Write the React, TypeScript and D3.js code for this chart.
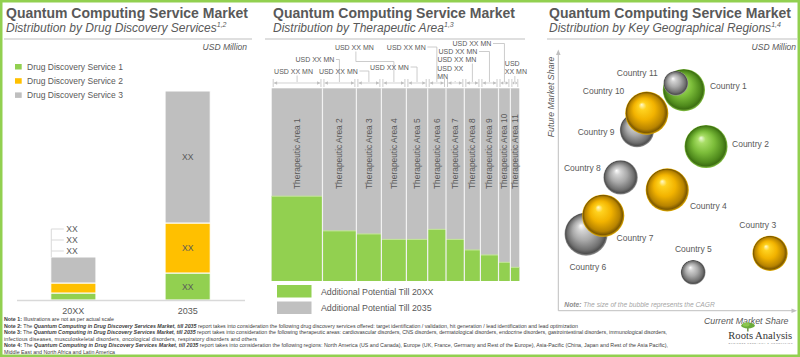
import React from "react";
import * as d3 from "d3";

// ---------- Data ----------
const drugYears = ["20XX", "2035"];
const drugServices = ["Drug Discovery Service 1", "Drug Discovery Service 2", "Drug Discovery Service 3"];
const service1Values = [7, 27];
const service2Values = [10, 50];
const service3Values = [26, 132];
const drugValueLabels = ["XX", "XX", "XX"];

const areaNames = [
  "Therapeutic Area 1", "Therapeutic Area 2", "Therapeutic Area 3", "Therapeutic Area 4",
  "Therapeutic Area 5", "Therapeutic Area 6", "Therapeutic Area 7", "Therapeutic Area 8",
  "Therapeutic Area 9", "Therapeutic Area 10", "Therapeutic Area 11",
];
const areaShare = [20.5, 13.7, 10.1, 10.1, 8.6, 7.4, 7.4, 6.5, 7.3, 4.8, 3.6];
const potentialTill20XX = [44, 26, 24.4, 21.6, 21.6, 26.8, 21.6, 16.1, 13.5, 9.7, 7.1];
const areaValueLabels = areaNames.map(() => "USD XX MN");
const areaLegend = ["Additional Potential Till 20XX", "Additional Potential Till 2035"];

const countries = [
  "Country 1", "Country 2", "Country 3", "Country 4", "Country 5", "Country 6",
  "Country 7", "Country 8", "Country 9", "Country 10", "Country 11",
];
const currentShare = [52.9, 62.2, 89.1, 45.9, 56.8, 11.8, 19.0, 26.3, 33.2, 37.3, 49.5];
const futureShare = [84.6, 62.9, 21.8, 46.2, 14.5, 29.2, 36.3, 51.0, 69.2, 75.7, 87.2];
const cagr = [24, 24.5, 20, 24.5, 14, 24.5, 24, 19.5, 19.5, 24.5, 14];
const countryGroup = ["green", "green", "yellow", "yellow", "gray", "gray", "yellow", "gray", "gray", "yellow", "gray"];

const noteLines = [
  [["Note 1:", "b"], [" Illustrations are not as per actual scale", ""]],
  [["Note 2:", "b"], [" The ", ""], ["Quantum Computing in Drug Discovery Services Market, till 2035", "bi"], [" report takes into consideration the following drug discovery services offered: target identification / validation, hit generation / lead identification and lead optimization", ""]],
  [["Note 3:", "b"], [" The ", ""], ["Quantum Computing in Drug Discovery Services Market, till 2035", "bi"], [" report takes into consideration the following therapeutic areas: cardiovascular disorders, CNS disorders, dermatological disorders, endocrine disorders, gastrointestinal disorders, immunological disorders,", ""]],
  [["infectious diseases, musculoskeletal disorders, oncological disorders, respiratory disorders and others", ""]],
  [["Note 4:", "b"], [" The ", ""], ["Quantum Computing in Drug Discovery Services Market, till 2035", "bi"], [" report takes into consideration the following regions: North America (US and Canada), Europe (UK, France, Germany and Rest of the Europe), Asia-Pacific (China, Japan and Rest of the Asia Pacific),", ""]],
  [["Middle East and North Africa and Latin America", ""]],
];
const noteLengths = [110, 574, 663, 253, 664, 111];

// ---------- Layout (not data) ----------
const areaLabelLayout = [
  { dx: -23, y: 73.5, type: "down", lines: 1 },
  { dx: -44, y: 62, type: "side", lines: 1 },
  { dx: -50, y: 73.5, type: "side", lines: 1 },
  { dx: -59, y: 49.5, type: "dog", lines: 1 },
  { dx: -47, y: 69.5, type: "side", lines: 1 },
  { dx: -50, y: 49.5, type: "side", lines: 1 },
  { dx: -18, y: 71, type: "down", lines: 2 },
  { dx: -35, y: 61.5, type: "down", lines: 1 },
  { dx: -51, y: 54, type: "side", lines: 1 },
  { dx: -52, y: 46, type: "side", lines: 1 },
  { dx: -10, y: 66, type: "down", lines: 2 },
];
const countryLabelOffset = [
  [26, -1], [26, 0.5], [-30.7, -25.3], [22.7, 19], [-18.3, -20.3], [-16.7, 36],
  [13.4, 25.3], [-56.7, -6.8], [-59.3, 5], [-64, -19.3], [-59, -7.3],
];
const bubbleOrder = [5, 6, 8, 9, 0, 10, 1, 2, 3, 4, 7];

const F = "'Liberation Sans', Arial, Helvetica, sans-serif";
const TXT = "#595959";
const GREEN = "#92D050";
const ORANGE = "#FFC000";
const GRAY = "#BFBFBF";
const LINE = "#BFBFBF";

function Titles({ x, sub, sup }: { x: number; sub: string; sup: string }) {
  return (
    <g fontFamily={F} fill={TXT}>
      <text x={x} y={17.5} fontSize={14} fontWeight="bold">Quantum Computing Service Market</text>
      <text x={x} y={32} fontSize={12} fontStyle="italic">
        {sub}
        <tspan dy={-5} fontSize={7}>{sup}</tspan>
      </text>
    </g>
  );
}

export default function App() {
  // ---------- Left: stacked bars ----------
  const stackData = drugYears.map((yr, i) => ({ year: yr, s1: service1Values[i], s2: service2Values[i], s3: service3Values[i] }));
  const series = d3.stack<any>().keys(["s1", "s2", "s3"])(stackData);
  const xb = d3.scaleBand().domain(drugYears).range([16.5, 244.5]).paddingInner(0.605).paddingOuter(0.3);
  const maxSum = d3.max(stackData, (d) => d.s1 + d.s2 + d.s3) as number;
  const yb = d3.scaleLinear().domain([0, maxSum]).range([300, 91]);
  const serviceColors = [GREEN, ORANGE, GRAY];

  // ---------- Middle: mosaic ----------
  const cum = Array.from(d3.cumsum(areaShare));
  const totalShare = cum[cum.length - 1];
  const xm = d3.scaleLinear().domain([0, totalShare]).range([271.7, 519.3]);
  const ym = d3.scaleLinear().domain([0, 100]).range([281, 88.3]);
  const cols = areaNames.map((n, i) => ({
    name: n,
    x0: xm(cum[i] - areaShare[i]),
    x1: xm(cum[i]),
    g: potentialTill20XX[i],
  }));
  const arrowY = 83;
  const lblFs = 7;
  const lblW = (s: string) => s.length * 0.62 * lblFs;

  // ---------- Right: bubbles ----------
  const xc = d3.scaleLinear().domain([0, 100]).range([558, 796]);
  const yc = d3.scaleLinear().domain([0, 100]).range([310, 50]);
  const rc = d3.scaleLinear().domain([0, 25]).range([0, 22]);

  const grads: Record<string, string[]> = {
    green: ["#f2fbe0", "#a8de66", "#7cbd3a", "#4f8a1c", "#3d6f12", "#8cc94a"],
    yellow: ["#fffbd0", "#ffd21f", "#f2b300", "#b78300", "#7d5900", "#e8b000"],
    gray: ["#ffffff", "#d4d4d4", "#a9a9a9", "#6f6f6f", "#4f4f4f", "#9a9a9a"],
  };

  return (
    <svg width={800} height={357} style={{ position: "absolute", left: 0, top: 0 }} fontFamily={F}>
      <defs>
        {Object.entries(grads).map(([k, c]) => (
          <radialGradient key={k} id={`sph-${k}`} cx="50%" cy="50%" r="50%" fx="38%" fy="30%">
            <stop offset="0%" stopColor={c[0]} />
            <stop offset="18%" stopColor={c[1]} />
            <stop offset="50%" stopColor={c[2]} />
            <stop offset="82%" stopColor={c[3]} />
            <stop offset="93%" stopColor={c[4]} />
            <stop offset="100%" stopColor={c[5]} />
          </radialGradient>
        ))}
      </defs>
      <rect x={0} y={0} width={800} height={357} fill="#fff" />

      {/* ===== Left panel ===== */}
      <Titles x={6} sub="Distribution by Drug Discovery Services" sup="1,2" />
      <line x1={4} x2={252} y1={39} y2={39} stroke={LINE} strokeWidth={1} />
      <text x={247} y={50} fontSize={8.5} fontStyle="italic" fill={TXT} textAnchor="end">USD Million</text>
      {drugServices.map((s, i) => (
        <g key={s}>
          <rect x={15} y={64 + i * 14.2} width={6.7} height={5.5} fill={serviceColors[i]} />
          <text x={27} y={69.8 + i * 14.2} fontSize={8.5} fill={TXT}>{s}</text>
        </g>
      ))}
      {series.map((s, si) =>
        s.map((d: any, di: number) => (
          <rect
            key={`${si}-${di}`}
            x={xb(d.data.year)}
            y={yb(d[1])}
            width={xb.bandwidth()}
            height={yb(d[0]) - yb(d[1])}
            fill={serviceColors[si]}
            stroke="#fff"
            strokeWidth={1}
          />
        ))
      )}
      <line x1={17} x2={245} y1={300.5} y2={300.5} stroke="#d9d9d9" strokeWidth={1.5} />
      {/* labels inside 2035 bar */}
      {series.map((s, si) => {
        const d: any = s[1];
        return (
          <text key={si} x={(xb(drugYears[1]) as number) + xb.bandwidth() / 2} y={(yb(d[0]) + yb(d[1])) / 2 + 3.2}
            fontSize={8.6} fill={TXT} textAnchor="middle">{drugValueLabels[si]}</text>
        );
      })}
      {/* bracket labels for 20XX */}
      {(() => {
        const bx = xb(drugYears[0]) as number;
        const top = yb(series[2][0][1]);
        const ys = [top - 28, top - 17, top - 6];
        return (
          <g>
            <line x1={bx + 0.5} x2={bx + 0.5} y1={ys[0]} y2={top} stroke="#d9d9d9" />
            {ys.map((yy, i) => (
              <g key={i}>
                <line x1={bx + 0.5} x2={bx + 13} y1={yy} y2={yy} stroke="#d9d9d9" />
                <text x={bx + 15.5} y={yy + 3.2} fontSize={8.6} fill={TXT}>{drugValueLabels[i]}</text>
              </g>
            ))}
          </g>
        );
      })()}
      {drugYears.map((yr) => (
        <text key={yr} x={(xb(yr) as number) + xb.bandwidth() / 2} y={314} fontSize={9} fill={TXT} textAnchor="middle">{yr}</text>
      ))}

      {/* ===== Middle panel ===== */}
      <Titles x={273} sub="Distribution by Therapeutic Area" sup="1,3" />
      <line x1={265} x2={525} y1={39} y2={39} stroke={LINE} strokeWidth={1} />
      {cols.map((c, i) => (
        <g key={c.name}>
          <rect x={c.x0} y={ym(100)} width={c.x1 - c.x0} height={ym(0) - ym(100)} fill="#C0C0C0" />
          <rect x={c.x0} y={ym(c.g)} width={c.x1 - c.x0} height={ym(0) - ym(c.g)} fill={GREEN} />
          <line x1={c.x0} x2={c.x1} y1={ym(c.g)} y2={ym(c.g)} stroke="#c5e79a" strokeWidth={1} />
          {i > 0 && <line x1={c.x0} x2={c.x0} y1={ym(100)} y2={ym(0)} stroke="#f2f2f2" strokeWidth={1.2} />}
          <text
            transform={`translate(${(c.x0 + c.x1) / 2 + 3},189) rotate(-90)`}
            fontSize={8.4}
            fill={TXT}
          >{c.name}</text>
        </g>
      ))}
      {/* arrows */}
      {cols.map((c, i) => {
        const a = c.x0 + 2.2;
        const b = c.x1 - 2.2;
        const h = Math.min(3.2, (b - a) / 3);
        return (
          <g key={`ar${i}`} stroke={LINE} fill={LINE}>
            <line x1={c.x0 + 1.5} x2={c.x0 + 1.5} y1={79} y2={87} strokeWidth={0.8} />
            <line x1={c.x1 - 1.5} x2={c.x1 - 1.5} y1={79} y2={87} strokeWidth={0.8} />
            <line x1={a} x2={b} y1={arrowY} y2={arrowY} strokeWidth={0.7} />
            <polygon points={`${a},${arrowY} ${a + h},${arrowY - 1.8} ${a + h},${arrowY + 1.8}`} stroke="none" />
            <polygon points={`${b},${arrowY} ${b - h},${arrowY - 1.8} ${b - h},${arrowY + 1.8}`} stroke="none" />
          </g>
        );
      })}
      {/* value labels with leaders */}
      {cols.map((c, i) => {
        const L = areaLabelLayout[i];
        const cx = (c.x0 + c.x1) / 2;
        const lx = cx + L.dx;
        const txt = areaValueLabels[i];
        const parts = L.lines === 2 ? (i === 10 ? ["USD", "XX MN"] : ["USD XX", "MN"]) : [txt];
        let path = "";
        if (L.type === "side") {
          const ex = lx + lblW(txt) + 1.5;
          path = `M${ex},${L.y - 2.5} H${cx} V${arrowY - 1}`;
        } else if (L.type === "dog") {
          const sx = lx + 21;
          path = `M${sx},${L.y + 2} V${L.y + 12} H${cx} V${arrowY - 1}`;
        } else {
          const bottom = L.y + (parts.length - 1) * 8 + 2;
          path = `M${cx},${bottom} V${arrowY - 1}`;
        }
        return (
          <g key={`lb${i}`}>
            <path d={path} fill="none" stroke={LINE} strokeWidth={0.8} />
            <text x={lx} y={L.y} fontSize={lblFs} fill={TXT}>
              {parts.map((p, k) => (
                <tspan key={k} x={lx} dy={k === 0 ? 0 : 8}>{p}</tspan>
              ))}
            </text>
          </g>
        );
      })}
      {areaLegend.map((t, i) => (
        <g key={t}>
          <rect x={277} y={285 + i * 16.5} width={34.5} height={12.5} fill={i === 0 ? GREEN : "#C0C0C0"} />
          <text x={321} y={294.5 + i * 16.5} fontSize={8.8} fill={TXT}>{t}</text>
        </g>
      ))}

      {/* ===== Right panel ===== */}
      <Titles x={549} sub="Distribution by Key Geographical Regions" sup="1,4" />
      <line x1={547} x2={797} y1={39} y2={39} stroke={LINE} strokeWidth={1} />
      <text x={796} y={50} fontSize={8.5} fontStyle="italic" fill={TXT} textAnchor="end">USD Million</text>
      <line x1={558.3} x2={558.3} y1={53} y2={310.7} stroke={LINE} strokeWidth={1} />
      <polygon points="558.3,49.5 556,55 560.6,55" fill={LINE} />
      <line x1={558.3} x2={793} y1={310.7} y2={310.7} stroke={LINE} strokeWidth={1} />
      <polygon points="797,310.7 791.5,308.4 791.5,313" fill={LINE} />
      <text transform="translate(554,97) rotate(-90)" fontSize={8.8} fontStyle="italic" fill={TXT} textAnchor="middle">Future Market Share</text>
      <text x={788.5} y={323.5} fontSize={8.8} fontStyle="italic" fill={TXT} textAnchor="end">Current Market Share</text>
      <text x={564.3} y={306.5} fontSize={6.7} fontStyle="italic" fill="#a6a6a6">
        <tspan fontWeight="bold" fill="#8c8c8c">Note:</tspan> The size of the bubble represents the CAGR
      </text>
      {bubbleOrder.map((i) => (
        <circle key={`b${i}`} cx={xc(currentShare[i])} cy={yc(futureShare[i])} r={rc(cagr[i])} fill={`url(#sph-${countryGroup[i]})`} />
      ))}
      {countries.map((c, i) => (
        <text key={c} x={xc(currentShare[i]) + countryLabelOffset[i][0]} y={yc(futureShare[i]) + countryLabelOffset[i][1]}
          fontSize={8.5} fill={TXT}>{c}</text>
      ))}

      {/* ===== Notes ===== */}
      {noteLines.map((segs, li) => (
        <text key={li} x={4} y={321.3 + li * 6.44} fontSize={5.3} fill="#404040"
          textLength={noteLengths[li]} lengthAdjust="spacing">
          {segs.map((s, k) => (
            <tspan key={k} fontWeight={s[1].includes("b") ? "bold" : "normal"} fontStyle={s[1].includes("i") ? "italic" : "normal"}>{s[0]}</tspan>
          ))}
        </text>
      ))}

      {/* ===== Logo ===== */}
      <g>
        <rect x={747.2} y={326.5} width={1.3} height={5} fill="#5b7f2e" />
        <ellipse cx={748} cy={325.5} rx={6.8} ry={3} fill="#6aab3a" />
        <ellipse cx={746} cy={324.5} rx={3.5} ry={2} fill="#8cc54f" />
        <text x={728.3} y={339} fontSize={10.6} fontFamily="'Liberation Serif', 'DejaVu Serif', serif" fill="#333">Roots Analysis</text>
        <text x={728.5} y={343.8} fontSize={2.4} fill="#888" textLength={64} lengthAdjust="spacing">BUSINESS RESEARCH &amp; CONSULTING</text>
      </g>

      {/* border */}
      <rect x={1.25} y={1.25} width={797.5} height={354.5} fill="none" stroke={GREEN} strokeWidth={2.5} />
    </svg>
  );
}
